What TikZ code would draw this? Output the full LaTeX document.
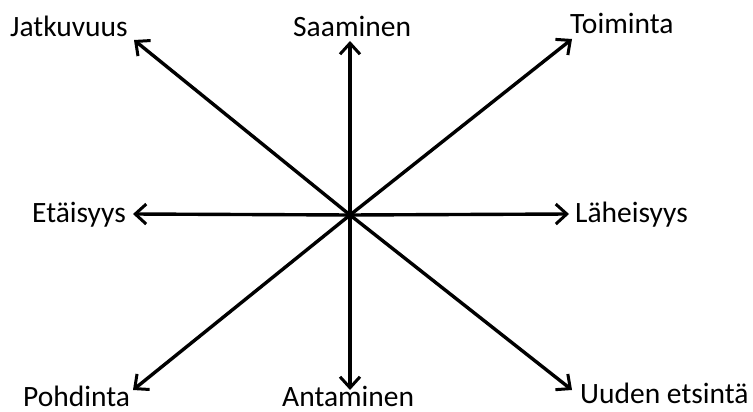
\documentclass[tikz,border=0pt]{standalone}
\usepackage{fontspec}
\setmainfont{Carlito}
\usetikzlibrary{arrows.meta}
\begin{document}
\begin{tikzpicture}[x=1pt,y=-1pt,
  lbl/.style={inner sep=0pt,anchor=base west,font=\fontsize{29.5}{31}\selectfont},
  arr/.style={line width=3.4pt,-{Straight Barb[length=11pt,width=20pt,line width=3pt]}}]
\useasboundingbox (0,0) rectangle (753,412);
\coordinate (c) at (350,215);
\coordinate (tnw) at (134,40);
\coordinate (tn) at (350,41);
\coordinate (tne) at (572,39);
\coordinate (tw) at (133,214);
\coordinate (te) at (569,214);
\coordinate (tsw) at (133,390);
\coordinate (ts) at (350,390);
\coordinate (tse) at (572,390);
\node[lbl] (jat) at (10,37) {Jatkuvuus};
\node[lbl] (saa) at (293,37) {Saaminen};
\node[lbl] (toi) at (570,34) {Toiminta};
\node[lbl] (eta) at (32,222) {Etäisyys};
\node[lbl] (lah) at (575,222) {Läheisyys};
\node[lbl] (poh) at (23,406) {Pohdinta};
\node[lbl] (ant) at (282,406) {Antaminen};
\node[lbl] (uud) at (580,403) {Uuden etsintä};
\foreach \t in {tnw,tn,tne,tw,te,tsw,ts,tse}
  \draw[arr] (c) -- (\t);
\end{tikzpicture}
\end{document}
